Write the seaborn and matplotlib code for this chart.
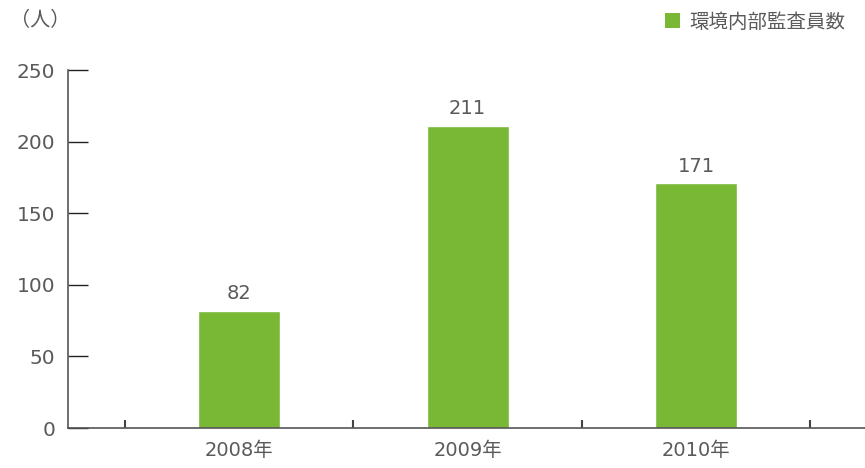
import matplotlib
matplotlib.use("Agg")
import matplotlib.pyplot as plt
import seaborn as sns
import pandas as pd
from matplotlib.patches import Patch

years = ["2008年", "2009年", "2010年"]
values = [82, 211, 171]
series_name = "環境内部監査員数"
unit_label = "（人）"
yticks = [0, 50, 100, 150, 200, 250]

sns.set_theme(style="white")
plt.rcParams['font.family'] = ['DejaVu Sans', 'Noto Sans CJK JP']

GREEN = "#78b834"
TXT = "#5a5a5a"
AX = "#444444"

fig = plt.figure(figsize=(8.65, 4.68), dpi=100)
W, H = 865, 468
ax = fig.add_axes([68 / W, (H - 428) / H, (865 - 68) / W, (428 - 70) / H])

df = pd.DataFrame({"year": years, "value": values, "series": series_name})
sns.barplot(data=df, x="year", y="value", hue="series", palette=[GREEN],
            width=0.36, ax=ax, legend=False, saturation=1)

for i, v in enumerate(values):
    ax.text(i, v + 8, str(v), ha="center", va="baseline", fontsize=14, color=TXT)

ax.set_ylim(0, 250)
ax.set_xlim(-0.75, 2.74)
ax.set_yticks(yticks)
ax.set_yticklabels([str(t) for t in yticks], fontsize=14.5, color=TXT)
ax.tick_params(axis="y", left=True, direction="in", length=14.4, width=1, color="#222222", pad=9)

ax.set_xticks([-0.5, 0.5, 1.5, 2.5])
ax.set_xticklabels([])
ax.tick_params(axis="x", which="major", bottom=True, direction="in", length=6, width=1.5, color=AX)
ax.set_xticks([0, 1, 2], minor=True)
ax.set_xticklabels(years, minor=True, fontsize=14, color=TXT)
ax.tick_params(axis="x", which="minor", bottom=True, length=0, pad=9)

for s in ["top", "right"]:
    ax.spines[s].set_visible(False)
for s in ["left", "bottom"]:
    ax.spines[s].set_color("#555555")
    ax.spines[s].set_linewidth(1.2)
ax.set_xlabel("")
ax.set_ylabel("")

fig.text(10 / W, 1 - 21 / H, unit_label, fontsize=14.5, color=TXT, va="center", ha="left",
         family=['Noto Sans CJK JP', 'DejaVu Sans'])

handle = Patch(facecolor=GREEN, edgecolor="none", label=series_name)
fig.legend(handles=[handle], loc="center left", bbox_to_anchor=(647 / W, 1 - 22 / H),
           frameon=False, handlelength=0.8, handleheight=0.8,
           handletextpad=0.5, labelcolor=TXT,
           prop={"family": ['Noto Sans CJK JP', 'DejaVu Sans'], "size": 14})

fig.savefig("out.png", dpi=100)
